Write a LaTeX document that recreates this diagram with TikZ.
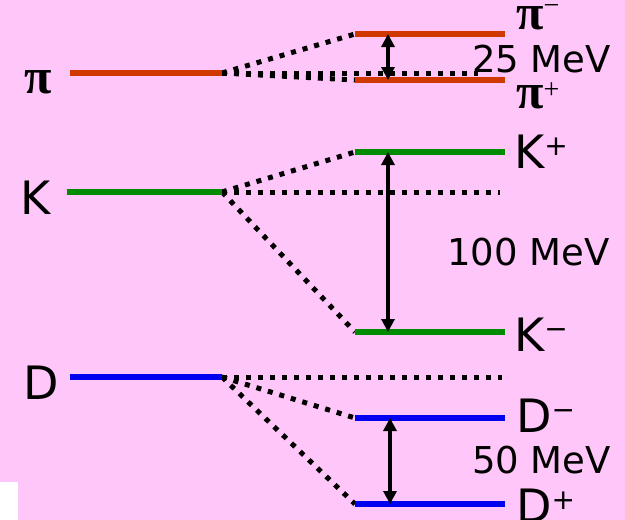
\documentclass[tikz,border=0pt]{standalone}
\usepackage{fontspec}
\setmainfont{DejaVu Sans}
\newfontfamily\grk{Liberation Serif}
\usetikzlibrary{arrows.meta}
\definecolor{bg}{RGB}{255,198,250}
\definecolor{pired}{RGB}{208,56,0}
\definecolor{kgreen}{RGB}{0,140,0}
\definecolor{dblue}{RGB}{0,0,240}
\newcommand{\supsc}[2][13pt]{\raisebox{#1}{\fontsize{28}{28}\selectfont\mdseries\upshape #2}}
\begin{document}
\begin{tikzpicture}[x=1pt,y=-1pt,
  level/.style={line width=6pt},
  split/.style={line width=5pt, dash pattern=on 5pt off 7pt},
  gap/.style={line width=3.2pt, {Triangle[length=13pt,width=13pt]}-{Triangle[length=13pt,width=13pt]}},
  big/.style={font=\fontsize{46}{46}\selectfont, inner sep=0pt, anchor=base west},
  pilab/.style={font=\fontsize{50}{50}\selectfont\grk\bfseries, inner sep=0pt, anchor=base west},
  mev/.style={font=\fontsize{37}{37}\selectfont, inner sep=0pt, anchor=base west}]

\fill[bg] (0,0) rectangle (625,520);
\fill[white] (0,482) rectangle (18,520);
\clip (0,0) rectangle (625,520);

% pi
\coordinate (pA) at (70,73);
\coordinate (pB) at (222,73);
\coordinate (pmA) at (355,34);
\coordinate (pmB) at (505,34);
\coordinate (ppA) at (355,80);
\coordinate (ppB) at (505,80);
\coordinate (pH) at (478,73);
\coordinate (pArU) at (388,34);
\coordinate (pArD) at (388,80);

% K
\coordinate (kA) at (67,192);
\coordinate (kB) at (222,192);
\coordinate (kpA) at (355,152);
\coordinate (kpB) at (505,152);
\coordinate (kmA) at (355,332);
\coordinate (kmB) at (505,332);
\coordinate (kH) at (500,192);
\coordinate (kArU) at (388,152);
\coordinate (kArD) at (388,332);

% D
\coordinate (dA) at (70,377);
\coordinate (dB) at (222,377);
\coordinate (dmA) at (355,418);
\coordinate (dmB) at (505,418);
\coordinate (dpA) at (355,504);
\coordinate (dpB) at (505,504);
\coordinate (dH) at (502,377);
\coordinate (dArU) at (390,418);
\coordinate (dArD) at (390,504);

% dotted splittings
\draw[split] (pB) -- (pmA);
\draw[split] (pB) -- (ppA);
\draw[split] (pB) -- (pH);
\draw[split] (kB) -- (kpA);
\draw[split] (kB) -- (kmA);
\draw[split] (kB) -- (kH);
\draw[split] (dB) -- (dH);
\draw[split] (dB) -- (dmA);
\draw[split] (dB) -- (dpA);

% levels
\draw[level,pired] (pA) -- (pB);
\draw[level,pired] (pmA) -- (pmB);
\draw[level,pired] (ppA) -- (ppB);
\draw[level,kgreen] (kA) -- (kB);
\draw[level,kgreen] (kpA) -- (kpB);
\draw[level,kgreen] (kmA) -- (kmB);
\draw[level,dblue] (dA) -- (dB);
\draw[level,dblue] (dmA) -- (dmB);
\draw[level,dblue] (dpA) -- (dpB);

% gaps
\draw[gap] (pArU) -- (pArD);
\draw[gap] (kArU) -- (kArD);
\draw[gap] (dArU) -- (dArD);

% labels
\node[pilab] (lpi) at (24,93) {π};
\node[big] (lK) at (20,214) {K};
\node[big] (lD) at (23,399) {D};

\node[pilab] (lpim) at (516,29) {π\supsc[15pt]{−}};
\node[pilab] (lpip) at (516,108) {π\supsc[10pt]{+}};
\node[big] (lKp) at (514,168) {K\supsc{+}};
\node[big] (lKm) at (514,351) {K\supsc{−}};
\node[big] (lDm) at (516,432) {D\supsc{−}};
\node[big] (lDp) at (516,522) {D\supsc{+}};

\node[mev] (m25) at (472,72) {25 MeV};
\node[mev] (m100) at (447,265) {100 MeV};
\node[mev] (m50) at (472,473) {50 MeV};
\end{tikzpicture}
\end{document}
